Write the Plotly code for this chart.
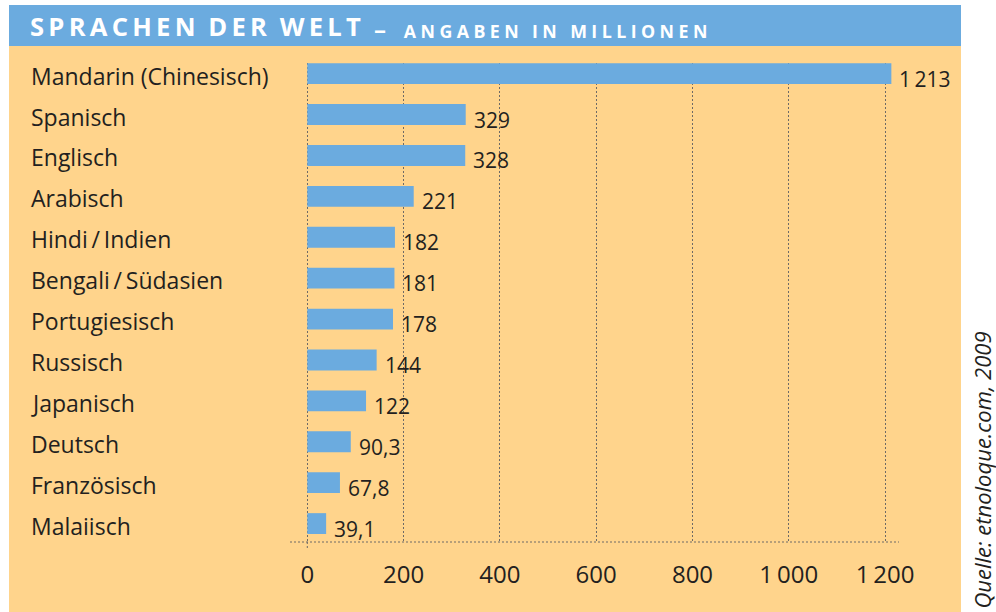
import plotly.graph_objects as go

# ---- data ----
languages = [
    "Mandarin (Chinesisch)", "Spanisch", "Englisch", "Arabisch",
    "Hindi\u2009/\u2009Indien", "Bengali\u2009/\u2009Südasien", "Portugiesisch",
    "Russisch", "Japanisch", "Deutsch", "Französisch", "Malaiisch",
]
speakers = [1213, 329, 328, 221, 182, 181, 178, 144, 122, 90.3, 67.8, 39.1]
value_labels = ["1\u2009213", "329", "328", "221", "182", "181", "178",
                "144", "122", "90,3", "67,8", "39,1"]
tick_values = [0, 200, 400, 600, 800, 1000, 1200]
tick_labels = ["0", "200", "400", "600", "800", "1\u2009000", "1\u2009200"]

title_main = "SPRACHEN DER WELT"
title_sub = "ANGABEN IN MILLIONEN"
source_text = "Quelle: etnoloque.com, 2009"

# ---- style ----
BLUE = "#6babdf"
ORANGE = "#ffd48c"
TEXT = "#231f20"
GRID = "#6e6a66"
FONT = "Open Sans"

W, H = 996, 612
ML, MR, MT, MB = 290, 97, 63, 70
PW = W - ML - MR
PH = H - MT - MB


def px_x(px):
    return (px - ML) / PW


def px_y(py):
    return (H - MB - py) / PH


def spaced(s, gap):
    out = []
    for ch in s:
        if ch == " ":
            out.append(gap * 2)
        else:
            out.append(ch + gap)
    return "".join(out).rstrip(gap)


fig = go.Figure()
fig.add_trace(go.Bar(
    x=speakers, y=languages, orientation="h",
    marker=dict(color=BLUE, line=dict(width=0)),
    width=0.51, hoverinfo="skip",
))

annotations = []
for lang, v, lab in zip(languages, speakers, value_labels):
    annotations.append(dict(
        x=v, y=lang, xref="x", yref="y", text=lab, showarrow=False,
        xanchor="left", yanchor="middle", xshift=6, yshift=-5,
        font=dict(family=FONT, size=21, color=TEXT),
    ))
    annotations.append(dict(
        x=px_x(29), y=lang, xref="paper", yref="y", text=lang, showarrow=False,
        xanchor="left", yanchor="middle", yshift=-2,
        font=dict(family=FONT, size=23, color=TEXT),
    ))

annotations.append(dict(
    x=px_x(28), y=px_y(27), xref="paper", yref="paper",
    text="<b>" + spaced(title_main, "\u2009") + "</b>", showarrow=False,
    xanchor="left", yanchor="middle",
    font=dict(family=FONT, size=25.6, color="white"),
))
annotations.append(dict(
    x=px_x(372), y=px_y(29), xref="paper", yref="paper",
    text="<b><span style='font-size:24px'>–</span>\u2003"
         + spaced(title_sub, "\u2005") + "</b>",
    showarrow=False, xanchor="left", yanchor="middle",
    font=dict(family=FONT, size=17.8, color="white"),
))
annotations.append(dict(
    x=px_x(981.5), y=px_y(470), xref="paper", yref="paper",
    text="<i>" + source_text + "</i>", showarrow=False, textangle=-90,
    xanchor="center", yanchor="middle", borderpad=0,
    font=dict(family=FONT, size=22, color=TEXT),
))

shapes = [
    dict(type="rect", xref="paper", yref="paper", layer="below",
         x0=px_x(9), x1=px_x(961), y0=px_y(46), y1=px_y(612),
         fillcolor=ORANGE, line=dict(width=0)),
    dict(type="rect", xref="paper", yref="paper", layer="below",
         x0=px_x(9), x1=px_x(961), y0=px_y(5), y1=px_y(46),
         fillcolor=BLUE, line=dict(width=0)),
    dict(type="line", xref="paper", yref="paper", layer="below",
         x0=0, x1=1, y0=0, y1=0,
         line=dict(color=GRID, width=1, dash="2px,2px")),
    dict(type="line", xref="x", yref="paper", layer="below",
         x0=0, x1=0, y0=0, y1=px_y(550),
         line=dict(color=GRID, width=1, dash="2px,2px")),
]

fig.update_layout(
    width=W, height=H,
    margin=dict(l=ML, r=MR, t=MT, b=MB, pad=0),
    paper_bgcolor="white", plot_bgcolor="rgba(0,0,0,0)",
    showlegend=False,
    annotations=annotations, shapes=shapes,
    xaxis=dict(
        range=[(ML - 307.3) / 0.4815, (W - MR - 307.3) / 0.4815],
        tickvals=tick_values, ticktext=tick_labels,
        showgrid=True, gridcolor=GRID, gridwidth=1, griddash="2px,2px",
        zeroline=False, showline=False, ticks="",
        ticklabelstandoff=16,
        tickfont=dict(family=FONT, size=24, color=TEXT),
        fixedrange=True,
    ),
    yaxis=dict(
        type="category", categoryorder="array", categoryarray=languages,
        range=[11.45, -0.26],
        showticklabels=False, showgrid=False, zeroline=False, showline=False,
        ticks="", fixedrange=True,
    ),
)

fig.write_html(
    "out.html",
    config={"displayModeBar": False},
    post_script="document.body.style.margin='0';document.body.style.overflow='hidden';",
)
